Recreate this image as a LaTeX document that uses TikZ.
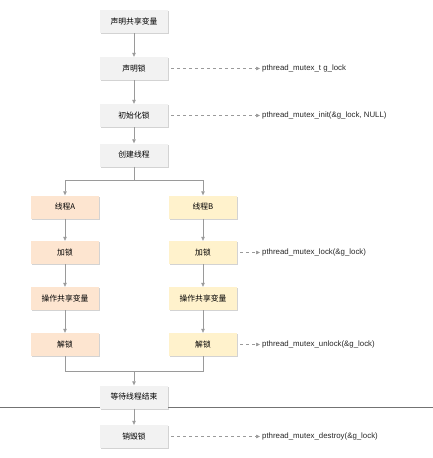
\documentclass[tikz,border=0pt]{standalone}
\usepackage{fontspec}
\setmainfont{Liberation Sans}
\newfontfamily\cjk{Noto Sans CJK SC}
\usetikzlibrary{arrows.meta,shadows}
\definecolor{boxgray}{HTML}{F2F2F2}
\definecolor{boxA}{HTML}{FDE5D0}
\definecolor{boxB}{HTML}{FFF2CC}
\definecolor{linegray}{HTML}{9A9A9A}
\tikzset{
  box/.style={rectangle, minimum width=68pt, minimum height=23pt, inner sep=0pt,
    fill=boxgray, font=\cjk\fontsize{7.8}{9}\selectfont,
    drop shadow={shadow xshift=1pt, shadow yshift=-1.2pt, opacity=0.35, fill=gray}},
  boxa/.style={box, fill=boxA},
  boxb/.style={box, fill=boxB},
  conn/.style={draw=linegray, line width=0.6pt},
  arr/.style={conn, -{Triangle[length=4pt,width=3.5pt]}},
  darr/.style={arr, dashed, dash pattern=on 3pt off 3pt},
  lbl/.style={anchor=west, inner sep=0pt, font=\fontsize{7.85}{9}\selectfont, text=black!85}
}
\begin{document}
\begin{tikzpicture}[x=1pt,y=-1pt]
\useasboundingbox (0,0) rectangle (433,458);
\draw[line width=0.8pt, draw=black!55] (0,407) -- (433,407);
\node[box]  (n1) at (134,21.5)  {声明共享变量};
\node[box]  (n2) at (134,68.5)  {声明锁};
\node[box]  (n3) at (134,115.5) {初始化锁};
\node[box]  (n4) at (134,155)   {创建线程};
\node[boxa] (a1) at (65,207)    {线程A};
\node[boxb] (b1) at (203,207)   {线程B};
\node[boxa] (a2) at (65,252.5)  {加锁};
\node[boxb] (b2) at (203,252.5) {加锁};
\node[boxa] (a3) at (65,298.5)  {操作共享变量};
\node[boxb] (b3) at (203,298.5) {操作共享变量};
\node[boxa] (a4) at (65,344.5)  {解锁};
\node[boxb] (b4) at (203,344.5) {解锁};
\node[box]  (n5) at (134,397)   {等待线程结束};
\node[box]  (n6) at (134,436.5) {销毁锁};

\node[lbl] (l2) at (262,68.5)  {pthread\_mutex\_t g\_lock};
\node[lbl] (l3) at (262,115.5) {pthread\_mutex\_init(\&g\_lock, NULL)};
\node[lbl] (l4) at (262,252.5) {pthread\_mutex\_lock(\&g\_lock)};
\node[lbl] (l5) at (262,344.5) {pthread\_mutex\_unlock(\&g\_lock)};
\node[lbl] (l6) at (262,436.5) {pthread\_mutex\_destroy(\&g\_lock)};

\draw[arr] (n1) -- (n2);
\draw[arr] (n2) -- (n3);
\draw[arr] (n3) -- (n4);
\coordinate (sp) at (134,180);
\draw[conn] (n4.south) -- (sp);
\draw[arr] (sp) -| (a1.north);
\draw[arr] (sp) -| (b1.north);
\draw[arr] (a1) -- (a2);
\draw[arr] (a2) -- (a3);
\draw[arr] (a3) -- (a4);
\draw[arr] (b1) -- (b2);
\draw[arr] (b2) -- (b3);
\draw[arr] (b3) -- (b4);
\coordinate (mg) at (134,371);
\draw[conn] (a4.south) |- (mg);
\draw[conn] (b4.south) |- (mg);
\draw[arr] (mg) -- (n5.north);
\draw[arr] (n5) -- (n6);

\draw[darr] ([xshift=3pt]n2.east) -- ([xshift=-2pt]l2.west);
\draw[darr] ([xshift=3pt]n3.east) -- ([xshift=-2pt]l3.west);
\draw[darr] ([xshift=3pt]b2.east) -- ([xshift=-2pt]l4.west);
\draw[darr] ([xshift=3pt]b4.east) -- ([xshift=-2pt]l5.west);
\draw[darr] ([xshift=3pt]n6.east) -- ([xshift=-2pt]l6.west);
\end{tikzpicture}
\end{document}
